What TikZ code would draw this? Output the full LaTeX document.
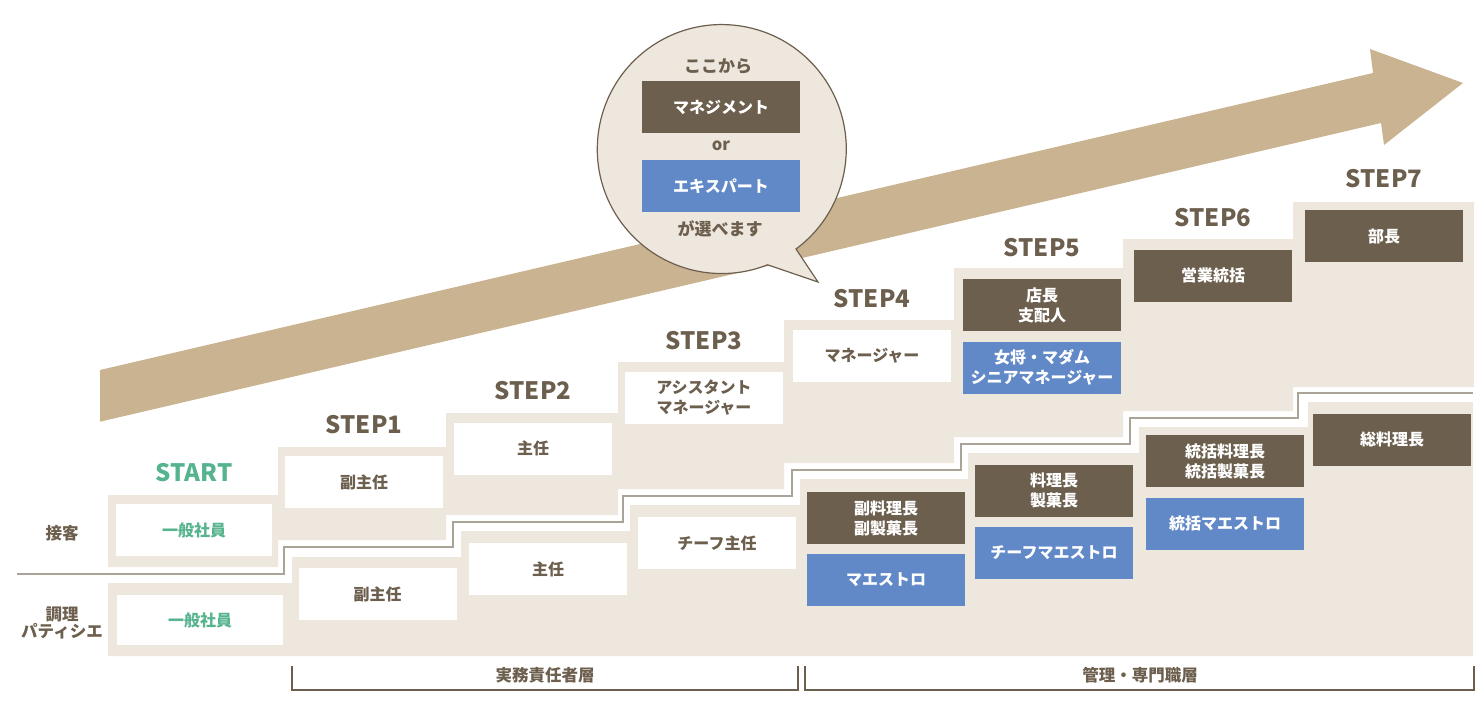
\documentclass[tikz,border=0pt]{standalone}
\usepackage{fontspec}
\setmainfont{Noto Sans CJK JP}
\usetikzlibrary{positioning}
\definecolor{beige}{HTML}{EEE7DD}
\definecolor{darkbrown}{HTML}{6C5F4E}
\definecolor{stepblue}{HTML}{6289C7}
\definecolor{startgreen}{HTML}{55B48E}
\definecolor{arrowtan}{HTML}{CAB391}
\definecolor{linegray}{HTML}{A9A398}

\begin{document}
\begin{tikzpicture}[x=1pt, y=-1pt,
    box/.style={fill=white, text=darkbrown, align=center, inner sep=0pt, minimum width=158, minimum height=52, font=\bfseries\fontsize{16}{20}\selectfont},
    mgmt/.style={box, fill=darkbrown, text=white},
    expert/.style={box, fill=stepblue, text=white},
    entry/.style={box, text=startgreen},
    steplabel/.style={inner sep=0pt, text=darkbrown, font=\bfseries\fontsize{24}{24}\selectfont},
    lane/.style={inner sep=0pt, text=darkbrown, align=center, font=\bfseries\fontsize{16.5}{17.5}\selectfont},
    node distance=22pt
  ]
  \useasboundingbox (0,0) rectangle (1480,718);

  \fill[arrowtan] (100,370) -- (1373,73) -- (1370,49) -- (1463,83) -- (1384,145) -- (1381,123) -- (100,421.7) -- cycle;

  \fill[beige] (108,567) |- (278,495) |- (446,447) |- (618,413) |- (784,362) |- (954,320) |- (1123,268) |- (1293,239) |- (1474,202)
    |- (1293,387) |- (1123,411) |- (954,437) |- (784,463) |- (618,489) |- (446,515) |- (278,540) |- (108,567) -- cycle;
  \fill[beige] (108,656) |- (292,583) |- (461,557) |- (630,531) |- (800,505) |- (968,479) |- (1139,453) |- (1308,427) |- (1473,402) -- (1473,656) -- cycle;
  \draw[linegray, line width=2] (17,574) -| (284,547) -| (453,522) -| (623,496) -| (792,470) -| (961,444) -| (1130,418) -| (1298,393) -- (1473,393);

  \filldraw[fill=beige, draw=darkbrown, line width=1.2] (796,249) arc[start angle=-53.4, end angle=291.6, radius=124.5pt] -- (818,282) -- cycle;
  \node[lane, font=\bfseries\fontsize{17}{20}\selectfont] (kokokara) at (718,66) {ここから};
  \node[mgmt] (management) at (721,107) {マネジメント};
  \node[lane] (ortext) at (721,146) {or};
  \node[expert] (expertise) at (721,186) {エキスパート};
  \node[lane, font=\bfseries\fontsize{17}{20}\selectfont] (erabemasu) at (720,229) {が選べます};

  \node[lane] (sekkyaku) at (62,533) {接客};
  \node[lane] (chori) at (62,623) {調理\\パティシエ};

  \node[entry, minimum width=156] (ippan1) at (194,530) {一般社員};
  \node[box] (fuku1) at (364,482) {副主任};
  \node[box] (shunin1) at (533,448.5) {主任};
  \node[box] (assist) at (704,398) {アシスタント\\マネージャー};
  \node[box] (manager) at (872,356) {マネージャー};
  \node[mgmt] (tencho) at (1042,305) {店長\\支配人};
  \node[expert] (okami) at (1042,367.5) {女将・マダム\\シニアマネージャー};
  \node[mgmt] (eigyo) at (1213,275.5) {営業統括};
  \node[mgmt] (bucho) at (1384,236) {部長};

  \node[steplabel, text=startgreen, above=of ippan1] (start) {START};
  \node[steplabel, above=of fuku1] (step1) {STEP1};
  \node[steplabel, above=of shunin1] (step2) {STEP2};
  \node[steplabel, above=of assist] (step3) {STEP3};
  \node[steplabel, above=of manager] (step4) {STEP4};
  \node[steplabel, above=of tencho] (step5) {STEP5};
  \node[steplabel, above=of eigyo] (step6) {STEP6};
  \node[steplabel, above=of bucho] (step7) {STEP7};

  \node[entry, minimum width=166, minimum height=50] (ippan2) at (200,620) {一般社員};
  \node[box] (fuku2) at (377.5,594) {副主任};
  \node[box] (shunin2) at (548,569) {主任};
  \node[box] (chiefshunin) at (717,543) {チーフ主任};
  \node[mgmt] (fukuryori) at (886,518) {副料理長\\副製菓長};
  \node[expert] (maestro) at (886,580) {マエストロ};
  \node[mgmt] (ryori) at (1054,490.5) {料理長\\製菓長};
  \node[expert] (chiefmaestro) at (1054,552.5) {チーフマエストロ};
  \node[mgmt] (tokatsu) at (1225,461) {統括料理長\\統括製菓長};
  \node[expert] (tokatsumaestro) at (1225,523.5) {統括マエストロ};
  \node[mgmt] (soryori) at (1392,439.5) {総料理長};

  \node[lane] (jitsumu) at (545,675) {実務責任者層};
  \node[lane] (kanri) at (1140,675) {管理・専門職層};
  \draw[darkbrown, line width=1.5] (292,666) |- (798,690) -- (798,666);
  \draw[darkbrown, line width=1.5] (805,666) |- (1474,690) -- (1474,666);
\end{tikzpicture}
\end{document}
